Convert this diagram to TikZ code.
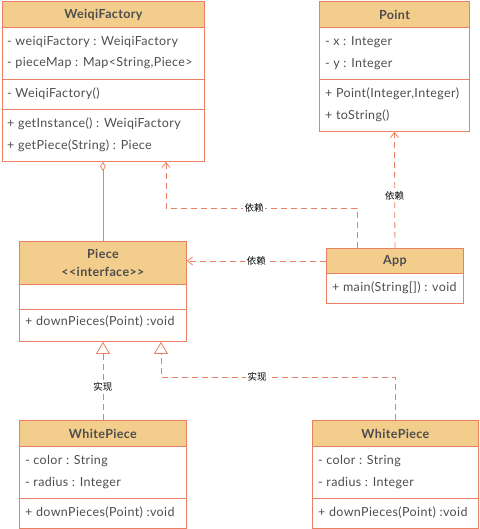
\documentclass[tikz,border=0pt]{standalone}
\usepackage{fontspec}
\setmainfont{Lato}[LetterSpace=3]
\newfontfamily\cjk{Noto Sans CJK SC}
\usetikzlibrary{positioning,arrows.meta}
\definecolor{umlline}{RGB}{232,128,98}
\definecolor{umlhead}{RGB}{242,205,140}
\definecolor{umltext}{RGB}{77,77,77}
\tikzset{
  classpart/.style={draw=umlline, line width=0.9pt, inner sep=0pt, anchor=north west},
  classhead/.style={classpart, fill=umlhead, text=umltext, align=center,
    font=\fontsize{12.5}{18}\selectfont\bfseries},
  member/.style={anchor=west, inner sep=0pt, text=umltext, font=\fontsize{12.5}{14}\selectfont},
  rel/.style={draw=umlline, line width=0.8pt},
  dep/.style={rel, dash pattern=on 6pt off 4pt, -{Straight Barb[length=5pt,width=8pt]}},
  impl/.style={rel, dash pattern=on 6pt off 4pt, -{Triangle[open,length=12pt,width=14pt,fill=white]}},
  relname/.style={fill=white, inner sep=1.5pt, text=black, font=\cjk\fontsize{9.5}{10}\selectfont},
}
\begin{document}
\begin{tikzpicture}[x=1pt,y=-1pt]
  \useasboundingbox (0,0) rectangle (479,529);

  % Drawing class WeiqiFactory
  \node [classhead, minimum width=202, minimum height=26] (wfh) at (2,1) {WeiqiFactory};
  \node [classpart, minimum width=202, minimum height=52] (wfa) at (2,27) {};
  \node [classpart, minimum width=202, minimum height=30] (wfc) at (2,79) {};
  \node [classpart, minimum width=202, minimum height=52] (wfm) at (2,109) {};
  \node [member] at (7,42) {- weiqiFactory : WeiqiFactory};
  \node [member] at (7,63) {- pieceMap : Map<String,Piece>};
  \node [member] at (7,94) {- WeiqiFactory()};
  \node [member] at (7,124) {+ getInstance() : WeiqiFactory};
  \node [member] at (7,146) {+ getPiece(String) : Piece};

  % Drawing class Point
  \node [classhead, minimum width=150, minimum height=26] (pth) at (319,1) {Point};
  \node [classpart, minimum width=150, minimum height=52] (pta) at (319,27) {};
  \node [classpart, minimum width=150, minimum height=52] (ptm) at (319,79) {};
  \node [member] at (325,42) {- x : Integer};
  \node [member] at (325,64) {- y : Integer};
  \node [member] at (325,94) {+ Point(Integer,Integer)};
  \node [member] at (325,116) {+ toString()};

  % Drawing interface Piece
  \node [classhead, minimum width=167, minimum height=43] (pch) at (19,241) {Piece\\<{}<interface>{}>};
  \node [classpart, minimum width=167, minimum height=25] (pca) at (19,284) {};
  \node [classpart, minimum width=167, minimum height=32] (pcm) at (19,309) {};
  \node [member] at (25,322) {+ downPieces(Point) :void};

  % Drawing class App
  \node [classhead, minimum width=137, minimum height=25] (aph) at (326,248) {App};
  \node [classpart, minimum width=137, minimum height=30] (apm) at (326,273) {};
  \node [member] at (332,288) {+ main(String[]) : void};

  % Drawing class WhitePiece (left)
  \node [classhead, minimum width=167, minimum height=26] (wlh) at (19,420) {WhitePiece};
  \node [classpart, minimum width=167, minimum height=52] (wla) at (19,446) {};
  \node [classpart, minimum width=167, minimum height=30] (wlm) at (19,498) {};
  \node [member] at (25,461) {- color : String};
  \node [member] at (25,483) {- radius : Integer};
  \node [member] at (25,513) {+ downPieces(Point) :void};

  % Drawing class WhitePiece (right)
  \node [classhead, minimum width=166, minimum height=26] (wrh) at (312,420) {WhitePiece};
  \node [classpart, minimum width=166, minimum height=52] (wra) at (312,446) {};
  \node [classpart, minimum width=166, minimum height=30] (wrm) at (312,498) {};
  \node [member] at (318,461) {- color : String};
  \node [member] at (318,483) {- radius : Integer};
  \node [member] at (318,513) {+ downPieces(Point) :void};

  % Drawing aggregation WeiqiFactory -- Piece
  \draw [rel, {Diamond[open,length=9pt,width=6pt,fill=white]}-] (pch.north |- wfm.south) -- (pch.north);

  % Drawing dependencies of App
  \coordinate (wfbend) at (166,208);
  \draw [dep] (aph.north -| 357,0) |- (wfbend) -- (wfbend |- wfm.south);
  \node [relname] at (254,208) {依赖};
  \draw [dep] (aph.north) -- (ptm.south) node [relname, pos=0.45] {依赖};
  \draw [dep] (aph.west) -- (pch.east |- aph.west) node [relname, midway] {依赖};

  % Drawing realizations of Piece
  \draw [impl] (wlh.north) -- (pcm.south -| wlh.north) node [relname, pos=0.43] {实现};
  \coordinate (wrbend) at (161,377);
  \draw [impl] (wrh.north) |- (wrbend) -- (wrbend |- pcm.south);
  \node [relname] at (257,377) {实现};
\end{tikzpicture}
\end{document}
